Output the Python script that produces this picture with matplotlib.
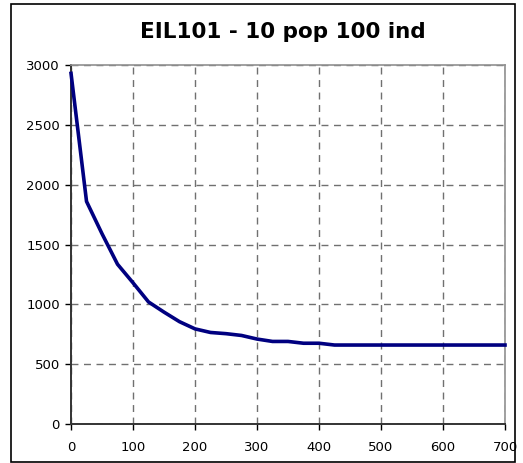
import matplotlib
matplotlib.use("Agg")
import matplotlib.pyplot as plt
from matplotlib.patches import Rectangle

plt.rcParams["font.family"] = ["DejaVu Sans"]

# generations vs best tour length
generations = [0, 25, 50, 75, 100, 125, 150, 175, 200, 225, 250, 275, 300,
               325, 350, 375, 400, 425, 450, 475, 500, 525, 550, 575, 600,
               625, 650, 675, 700]
best_cost = [2930, 1860, 1590, 1335, 1180, 1020, 935, 855, 795, 765, 755,
             740, 710, 690, 690, 675, 675, 660, 660, 660, 660, 660, 660,
             660, 660, 660, 660, 660, 660]
x_ticks = [0, 100, 200, 300, 400, 500, 600, 700]
y_ticks = [0, 500, 1000, 1500, 2000, 2500, 3000]
title = "EIL101 - 10 pop 100 ind"

fig = plt.figure(figsize=(5.23, 4.63), dpi=100)
ax = fig.add_axes([0.1358, 0.0842, 0.8298, 0.7754])

ax.plot(generations, best_cost, color="#000080", linewidth=2.6,
        solid_joinstyle="round", clip_on=False, zorder=3)

ax.set_xlim(0, 700)
ax.set_ylim(0, 3000)
ax.set_xticks(x_ticks)
ax.set_yticks(y_ticks)
ax.tick_params(labelsize=9.5, length=4, width=1, direction="out")
ax.tick_params(axis="x", pad=8)
ax.tick_params(axis="y", pad=4)
ax.grid(True, color="#707070", linestyle=(0, (5, 4)), linewidth=1)

for side in ["left", "bottom"]:
    ax.spines[side].set_color("#333333")
    ax.spines[side].set_linewidth(1.4)
for side in ["top", "right"]:
    ax.spines[side].set_color("#909090")
    ax.spines[side].set_linewidth(1.2)

fig.text(0.540, 0.930, title, ha="center", va="center",
         fontsize=15.5, fontweight="bold")

fig.patches.append(Rectangle((11 / 523, 1 / 463), 504 / 523, 458 / 463,
                             transform=fig.transFigure, fill=False,
                             edgecolor="black", linewidth=1.2))

fig.savefig("out.png", dpi=100)
